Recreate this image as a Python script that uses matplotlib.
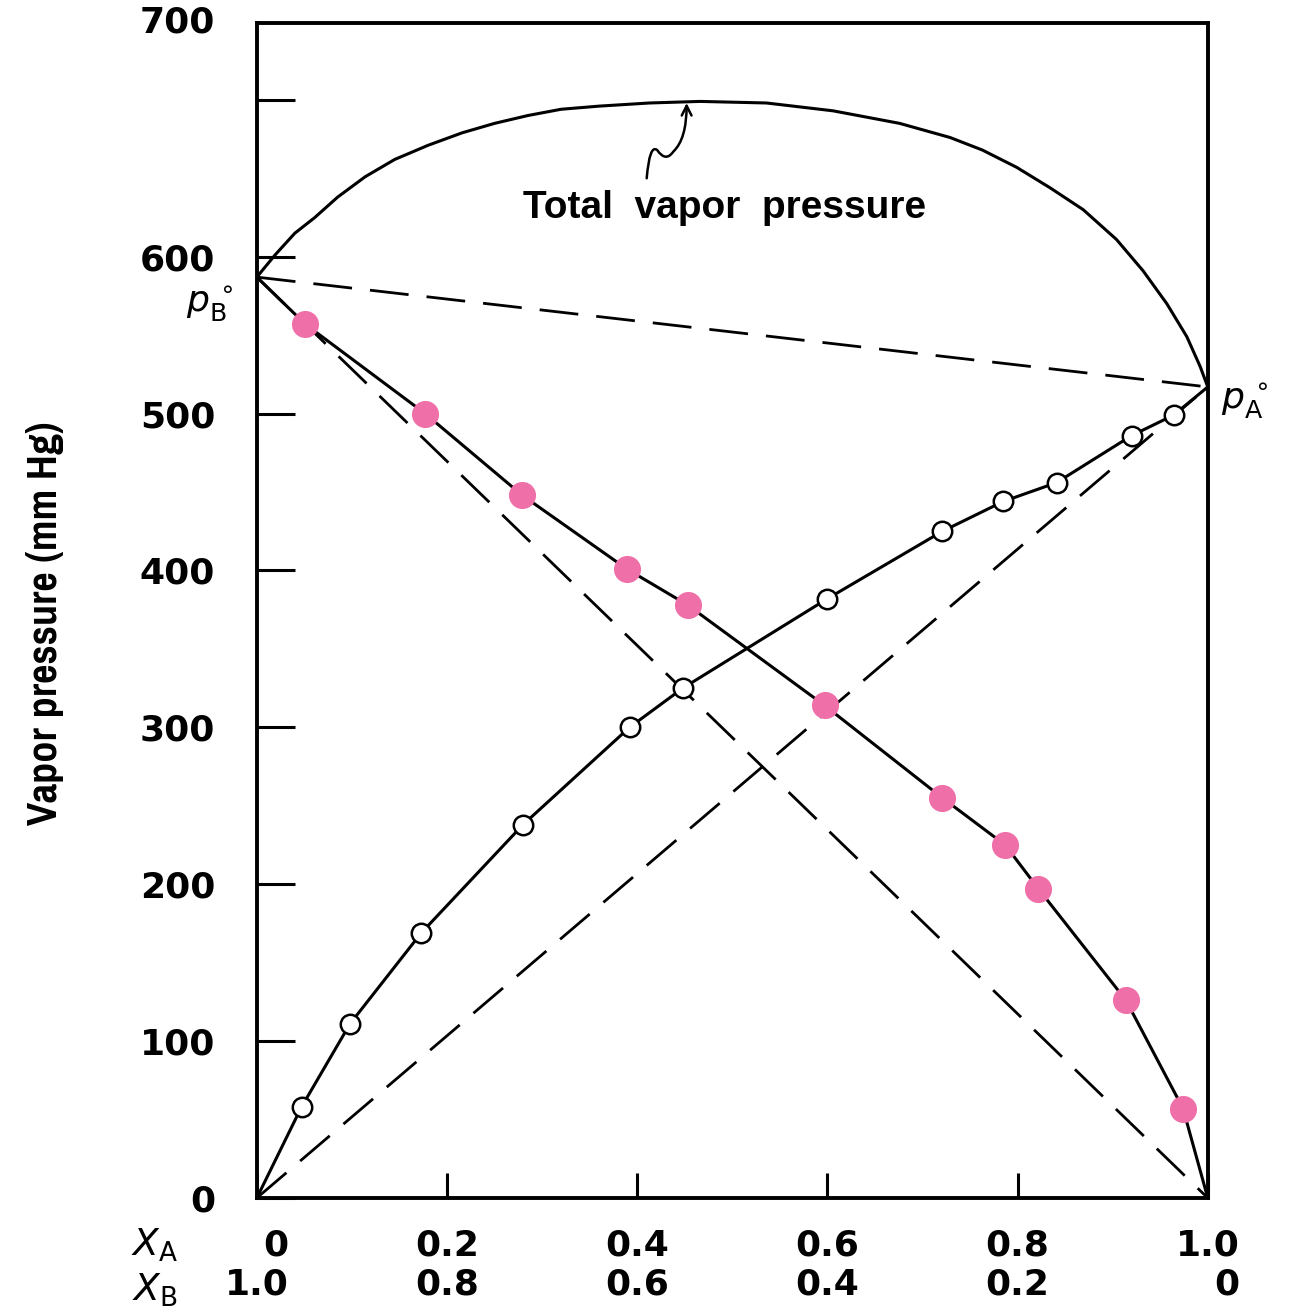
import matplotlib
matplotlib.use("Agg")
import matplotlib.pyplot as plt
from matplotlib import font_manager
from matplotlib.path import Path
from matplotlib.patches import FancyArrowPatch

# mole fraction of A and measured partial pressures (mm Hg)
xa_open = [0.047, 0.098, 0.173, 0.280, 0.392, 0.448, 0.600, 0.721, 0.785, 0.841, 0.920, 0.964]
pa_open = [58, 111, 169, 238, 300, 325, 382, 425, 444, 456, 486, 499]

xa_fill = [0.051, 0.177, 0.279, 0.389, 0.453, 0.597, 0.721, 0.787, 0.822, 0.914, 0.974]
pb_fill = [557, 500, 448, 401, 378, 314, 255, 225, 197, 126, 57]

pA0 = 517
pB0 = 587

# total vapor pressure curve
x_total = [0.0, 0.019, 0.040, 0.061, 0.085, 0.114, 0.145, 0.180, 0.216, 0.250, 0.285,
           0.320, 0.360, 0.413, 0.466, 0.536, 0.606, 0.676, 0.729, 0.763, 0.799, 0.834,
           0.869, 0.904, 0.932, 0.957, 0.978, 0.992, 1.0]
p_total = [587, 601, 615, 625, 638, 651, 662, 671, 679, 685, 690,
           694, 696, 698, 699, 698, 693, 685, 676, 668, 657, 644,
           630, 611, 591, 570, 549, 530, 517]

yticks = [0, 100, 200, 300, 400, 500, 600, 700]
ytick_labels = ['0', '100', '200', '300', '400', '500', '600', '']
xticks = [0, 0.2, 0.4, 0.6, 0.8, 1.0]
xa_labels = ['0', '0.2', '0.4', '0.6', '0.8', '1.0']
xb_labels = ['1.0', '0.8', '0.6', '0.4', '0.2', '0']


def pick_font(cands):
    names = set(f.name for f in font_manager.fontManager.ttflist)
    for c in cands:
        if c in names:
            return c
    return 'DejaVu Sans'


def ylabel_font():
    # a condensed bold face if one is installed, else plain bold
    for f in font_manager.fontManager.ttflist:
        fn = f.fname.replace('\\', '/').split('/')[-1]
        if 'Narrow-Bold.' in fn and 'Italic' not in fn:
            return font_manager.FontProperties(fname=f.fname, size=33)
    for f in font_manager.fontManager.ttflist:
        fn = f.fname.replace('\\', '/').split('/')[-1]
        if 'Condensed-Bold.' in fn and 'Oblique' not in fn:
            return font_manager.FontProperties(fname=f.fname, size=26)
    return font_manager.FontProperties(family=pick_font(['Liberation Sans', 'DejaVu Sans']),
                                       weight='bold', size=25)


sans = pick_font(['Liberation Sans', 'DejaVu Sans'])
pink = '#EF6FA9'

fig = plt.figure(figsize=(12.97, 13.13), dpi=100)
ax = fig.add_axes([0.198, 0.0876, 0.7332, 0.8949])

# Raoult's law lines
dash = (0, (14, 6.5))
ax.plot([0, 1], [0, pA0], color='black', lw=2, ls=dash)
ax.plot([0, 1], [pB0, 0], color='black', lw=2, ls=dash)
ax.plot([0, 1], [pB0, pA0], color='black', lw=2, ls=dash)

# measured curves
ax.plot([0] + xa_open + [1], [0] + pa_open + [pA0], color='black', lw=2.2)
ax.plot([0] + xa_fill + [1], [pB0] + pb_fill + [0], color='black', lw=2.2)
ax.plot(x_total, p_total, color='black', lw=2.2)

ax.plot(xa_open, pa_open, 'o', ms=14, mfc='white', mec='black', mew=1.8, zorder=5)
ax.plot(xa_fill, pb_fill, 'o', ms=19.5, mfc=pink, mec='none', zorder=5)

# squiggly arrow to the total curve
verts = [(0.410, 650), (0.413, 672), (0.421, 668), (0.430, 660), (0.438, 667),
         (0.452, 675), (0.452, 698)]
codes = [Path.MOVETO, Path.CURVE3, Path.CURVE3, Path.CURVE3, Path.CURVE3,
         Path.CURVE3, Path.CURVE3]
arr = FancyArrowPatch(path=Path(verts, codes), arrowstyle='->,head_length=7,head_width=3.5',
                      color='black', lw=1.8)
ax.add_patch(arr)
ax.text(0.492, 631, 'Total  vapor  pressure', ha='center', va='center',
        fontsize=28, fontweight='bold', family=sans)

# pure component pressures
ax.text(-0.024, 570, r'$p_\mathrm{B}^{\,\circ}$', ha='right', va='center', fontsize=26,
        clip_on=False)
ax.text(1.014, 508, r'$p_\mathrm{A}^{\,\circ}$', ha='left', va='center', fontsize=26,
        clip_on=False)

ax.set_xlim(0, 1)
ax.set_ylim(0, 749)

ax.set_yticks(yticks)
ax.set_yticklabels(ytick_labels, fontsize=26, fontweight='bold')
ax.tick_params(axis='y', direction='in', length=27, width=2.2, pad=30)
# the original figure prints 700 at the top edge of the frame
ax.text(-0.044, 749, '700', ha='right', va='center', fontsize=26, fontweight='bold',
        transform=ax.get_yaxis_transform(), clip_on=False)

ax.set_xticks(xticks)
ax.set_xticklabels([a + '\n' + b for a, b in zip(xa_labels, xb_labels)], fontsize=26,
                   fontweight='bold', linespacing=1.2, multialignment='right')
ax.tick_params(axis='x', direction='in', length=18, width=2.2, pad=22)

for s in ax.spines.values():
    s.set_linewidth(2.8)

fig.text(155 / 1297, 1 - 1245 / 1313, r'$X_\mathrm{A}$', ha='center', va='center', fontsize=27)
fig.text(155 / 1297, 1 - 1290 / 1313, r'$X_\mathrm{B}$', ha='center', va='center', fontsize=27)

fig.text(45 / 1297, 1 - 623 / 1313, 'Vapor pressure (mm Hg)', rotation=90, ha='center',
         va='center', fontproperties=ylabel_font())

fig.savefig('out.png', dpi=100)
